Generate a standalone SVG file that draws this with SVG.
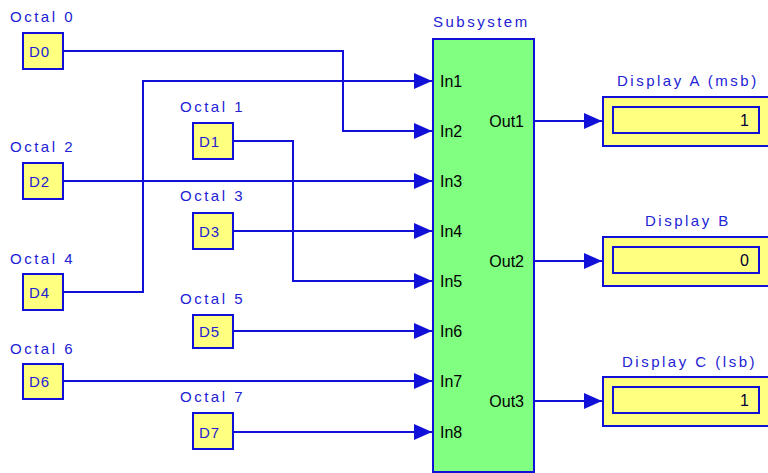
<svg xmlns="http://www.w3.org/2000/svg" width="768" height="473" viewBox="0 0 768 473">
<defs>
<style>
.lbl{font-family:"Liberation Sans",Arial,sans-serif;font-size:15px;fill:#2222d4;letter-spacing:2.5px}
.dl{font-family:"Liberation Sans",Arial,sans-serif;font-size:15px;fill:#2222d4;letter-spacing:1px}
.port{font-family:"Liberation Sans",Arial,sans-serif;font-size:16px;fill:#000}
.num{font-family:"Liberation Sans",Arial,sans-serif;font-size:16px;fill:#000033;text-anchor:end}
.blk{fill:#ffff80;stroke:#1010d8;stroke-width:2}
.sub{fill:#80ff80;stroke:#1010d8;stroke-width:2}
.wire{fill:none;stroke:#1010d8;stroke-width:2}
</style>
<marker id="arr" markerUnits="userSpaceOnUse" markerWidth="20" markerHeight="18" viewBox="-19 -9 20 18" refX="0" refY="0" orient="auto">
<path d="M-18,-8 L0,0 L-18,8 Z" fill="#1010d8"/>
</marker>
</defs>
<rect width="768" height="473" fill="#fff"/>
<g id="connectors">
<path class="wire" d="M63,51 H343 V131 H432" marker-end="url(#arr)"/>
<path class="wire" d="M63,292 H143 V81 H432" marker-end="url(#arr)"/>
<path class="wire" d="M63,181 H432" marker-end="url(#arr)"/>
<path class="wire" d="M233,141 H293 V281 H432" marker-end="url(#arr)"/>
<path class="wire" d="M233,231 H432" marker-end="url(#arr)"/>
<path class="wire" d="M233,331 H432" marker-end="url(#arr)"/>
<path class="wire" d="M63,381 H432" marker-end="url(#arr)"/>
<path class="wire" d="M233,432 H432" marker-end="url(#arr)"/>
<path class="wire" d="M534,121 H602" marker-end="url(#arr)"/>
<path class="wire" d="M534,261 H602" marker-end="url(#arr)"/>
<path class="wire" d="M534,401 H602" marker-end="url(#arr)"/>
</g>
<g id="D0"><text class="lbl" x="10" y="22">Octal 0</text><rect class="blk" x="23" y="33" width="40" height="36"/><text class="dl" x="29" y="56.5">D0</text></g>
<g id="D2"><text class="lbl" x="10" y="152">Octal 2</text><rect class="blk" x="23" y="163" width="40" height="36"/><text class="dl" x="29" y="186.5">D2</text></g>
<g id="D4"><text class="lbl" x="10" y="264">Octal 4</text><rect class="blk" x="23" y="274" width="40" height="36"/><text class="dl" x="29" y="297.5">D4</text></g>
<g id="D6"><text class="lbl" x="10" y="354">Octal 6</text><rect class="blk" x="23" y="364" width="40" height="35"/><text class="dl" x="29" y="386.5">D6</text></g>
<g id="D1"><text class="lbl" x="180" y="112">Octal 1</text><rect class="blk" x="193" y="123" width="40" height="36"/><text class="dl" x="199" y="146.5">D1</text></g>
<g id="D3"><text class="lbl" x="180" y="201">Octal 3</text><rect class="blk" x="193" y="213" width="40" height="36"/><text class="dl" x="199" y="236.5">D3</text></g>
<g id="D5"><text class="lbl" x="180" y="304">Octal 5</text><rect class="blk" x="193" y="315" width="40" height="33"/><text class="dl" x="199" y="336.5">D5</text></g>
<g id="D7"><text class="lbl" x="180" y="402">Octal 7</text><rect class="blk" x="193" y="413" width="40" height="36"/><text class="dl" x="199" y="437.5">D7</text></g>
<g id="Subsystem">
<text class="lbl" x="433" y="27">Subsystem</text>
<rect class="sub" x="433" y="39" width="101" height="433"/>
<text class="port" x="440" y="86.5">In1</text>
<text class="port" x="440" y="136.5">In2</text>
<text class="port" x="440" y="186.5">In3</text>
<text class="port" x="440" y="236.5">In4</text>
<text class="port" x="440" y="286.5">In5</text>
<text class="port" x="440" y="336.5">In6</text>
<text class="port" x="440" y="386.5">In7</text>
<text class="port" x="440" y="437.5">In8</text>
<text class="port" x="524" y="126.5" text-anchor="end">Out1</text>
<text class="port" x="524" y="266.5" text-anchor="end">Out2</text>
<text class="port" x="524" y="406.5" text-anchor="end">Out3</text>
</g>
<g id="DisplayA"><text class="lbl" x="617" y="86">Display A (msb)</text><rect class="blk" x="603" y="97" width="200" height="49"/><rect class="blk" x="613" y="107" width="146" height="26"/><text class="num" x="749" y="126">1</text></g>
<g id="DisplayB"><text class="lbl" x="645" y="226">Display B</text><rect class="blk" x="603" y="237" width="200" height="49"/><rect class="blk" x="613" y="247" width="146" height="26"/><text class="num" x="749" y="266">0</text></g>
<g id="DisplayC"><text class="lbl" x="622" y="367">Display C (lsb)</text><rect class="blk" x="603" y="377" width="200" height="49"/><rect class="blk" x="613" y="387" width="146" height="26"/><text class="num" x="749" y="406">1</text></g>
</svg>
